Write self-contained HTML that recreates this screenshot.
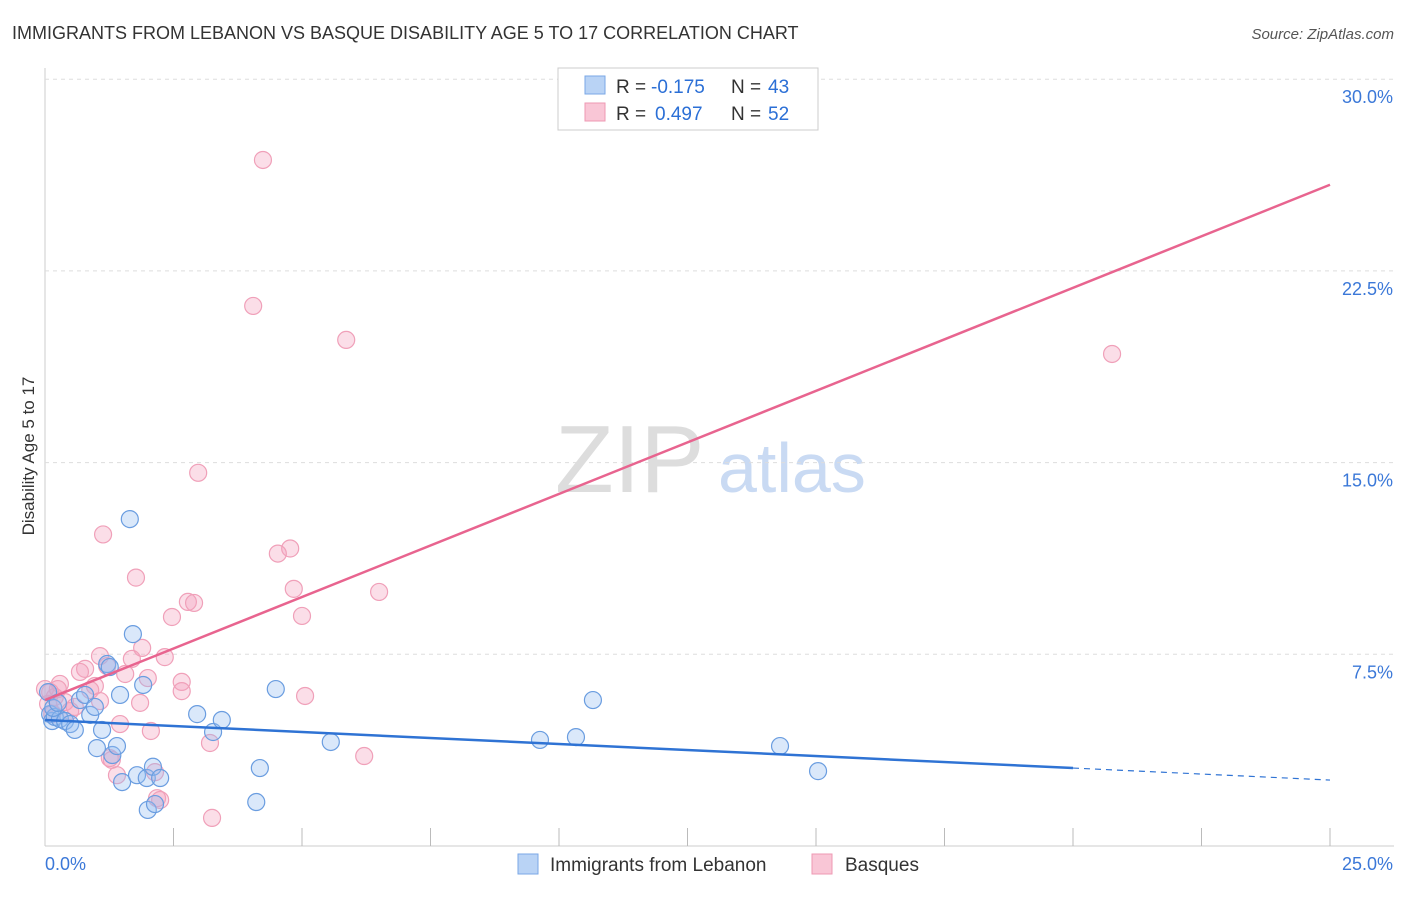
<!DOCTYPE html>
<html><head><meta charset="utf-8"><style>
body{margin:0;background:#fff;font-family:"Liberation Sans",sans-serif}
svg text{font-family:"Liberation Sans",sans-serif}
</style></head><body>
<svg id="c" width="1406" height="892" viewBox="0 0 1406 892">
<text x="12" y="39" font-size="18" fill="#333">IMMIGRANTS FROM LEBANON VS BASQUE DISABILITY AGE 5 TO 17 CORRELATION CHART</text>
<text x="1394" y="39" font-size="15" fill="#555" text-anchor="end" font-style="italic">Source: ZipAtlas.com</text>
<text x="34" y="456" font-size="17" fill="#333" text-anchor="middle" transform="rotate(-90 34 456)">Disability Age 5 to 17</text>
<text x="555" y="492" font-size="96" fill="#ddd" font-family="Liberation Serif">ZIP</text>
<text x="718" y="492" font-size="70" fill="#c9daf3">atlas</text>
<g id="grid"></g><g id="pts"></g><g id="lines"></g>
<g>
<rect x="558" y="68" width="260" height="62" fill="#fff" stroke="#ccc"/>
<rect x="585" y="76" width="20" height="18" fill="#b9d3f5" stroke="#7aa7e6"/>
<rect x="585" y="103" width="20" height="18" fill="#f9c6d6" stroke="#ee98b3"/>
<text x="616" y="93" font-size="19" fill="#333">R =</text>
<text x="651" y="93" font-size="19" fill="#2b6fd6">-0.175</text>
<text x="731" y="93" font-size="19" fill="#333">N =</text>
<text x="768" y="93" font-size="19" fill="#2b6fd6">43</text>
<text x="616" y="120" font-size="19" fill="#333">R =</text>
<text x="655" y="120" font-size="19" fill="#2b6fd6">0.497</text>
<text x="731" y="120" font-size="19" fill="#333">N =</text>
<text x="768" y="120" font-size="19" fill="#2b6fd6">52</text>
</g>
<g>
<rect x="518" y="854" width="20" height="20" fill="#b9d3f5" stroke="#7aa7e6"/>
<text x="550" y="871" font-size="19" fill="#333">Immigrants from Lebanon</text>
<rect x="812" y="854" width="20" height="20" fill="#f9c6d6" stroke="#ee98b3"/>
<text x="845" y="871" font-size="19" fill="#333">Basques</text>
</g>
</svg>
<script>
const yTicks=[7.5,15,22.5,30];
const xTicks=[0,2.5,5,7.5,10,12.5,15,17.5,20,22.5,25];
const blueX=[0.06,0.1,0.14,0.19,0.29,0.39,0.49,0.58,0.68,0.78,0.88,0.97,1.01,1.11,1.21,1.26,1.31,1.4,1.46,1.5,1.65,1.71,1.79,1.91,1.98,2.0,2.1,2.14,2.24,2.96,3.27,3.44,4.18,4.11,4.49,5.56,9.63,10.33,10.66,14.3,15.04,0.16,0.25];
const blueY=[6.02,5.16,4.89,5.05,4.97,4.89,4.77,4.54,5.71,5.91,5.13,5.44,3.83,4.54,7.12,7.0,3.56,3.91,5.91,2.5,12.79,8.29,2.77,6.3,2.66,1.41,3.1,1.64,2.66,5.16,4.46,4.93,3.05,1.72,6.14,4.07,4.15,4.26,5.71,3.91,2.93,5.4,5.6];
const pinkX=[4.24,4.05,5.86,20.76,2.98,1.13,4.77,4.53,1.77,4.84,6.5,2.78,2.9,5.0,2.47,1.89,1.07,2.33,1.69,0.78,1.21,0.68,1.56,0.97,0.29,2.66,2.0,2.66,0.88,5.06,1.85,0.1,0.19,0.39,0.58,1.46,2.06,3.21,6.21,1.3,1.4,2.14,2.18,2.24,3.25,0.06,0.14,0.49,1.07,0.0,0.25,1.26];
const pinkY=[26.84,21.13,19.8,19.25,14.6,12.19,11.64,11.44,10.5,10.06,9.94,9.55,9.51,9.0,8.96,7.75,7.43,7.39,7.32,6.93,7.04,6.81,6.73,6.26,6.34,6.42,6.57,6.06,6.1,5.87,5.6,6.02,5.83,5.63,5.44,4.77,4.5,4.03,3.52,3.37,2.77,2.89,1.87,1.8,1.1,5.56,5.16,5.28,5.67,6.14,6.14,3.44];
const blueLine=[0,4.93,20,3.05,25,2.58];
const pinkLine=[0,5.71,25,25.87];
const X=v=>45+v*51.4, Y=v=>846-v*25.56;
const NS='http://www.w3.org/2000/svg';
const mk=(p,t,a)=>{const e=document.createElementNS(NS,t);for(const k in a)e.setAttribute(k,a[k]);p.appendChild(e);return e;};
const g=document.getElementById('grid');
mk(g,'line',{x1:45,y1:68,x2:45,y2:846,stroke:'#ccc'});
mk(g,'line',{x1:45,y1:846,x2:1394,y2:846,stroke:'#ccc'});
yTicks.forEach(t=>{const l=mk(g,'line',{x1:45,y1:Y(t),x2:1394,y2:Y(t),stroke:'#ddd','stroke-dasharray':'4,4'});


const tx=mk(g,'text',{x:1393,y:Y(t)+24,'font-size':18,fill:'#3b78d8','text-anchor':'end'});tx.textContent=t.toFixed(1)+'%';

});
xTicks.forEach(t=>{if(t>0){const l=mk(g,'line',{x1:X(t),y1:828,x2:X(t),y2:846,stroke:'#bbb'});

}});
[[0,'start',45],[25,'end',1393]].forEach(([v,a,x])=>{const tx=mk(g,'text',{x:x,y:870,'font-size':18,fill:'#3b78d8','text-anchor':a});tx.textContent=v.toFixed(1)+'%';

});
const p=document.getElementById('pts');
pinkX.forEach((v,i)=>{const c=mk(p,'circle',{cx:X(v),cy:Y(pinkY[i]),r:8.5,fill:'rgba(244,160,188,0.35)',stroke:'#f0a0b9','stroke-width':1.2});

});
blueX.forEach((v,i)=>{const c=mk(p,'circle',{cx:X(v),cy:Y(blueY[i]),r:8.5,fill:'rgba(150,190,240,0.35)',stroke:'#6a9de0','stroke-width':1.2});

});
const L=document.getElementById('lines');
let e=mk(L,'line',{x1:X(blueLine[0]),y1:Y(blueLine[1]),x2:X(blueLine[2]),y2:Y(blueLine[3]),stroke:'#2f73d4','stroke-width':2.5});


e=mk(L,'line',{x1:X(blueLine[2]),y1:Y(blueLine[3]),x2:X(blueLine[4]),y2:Y(blueLine[5]),stroke:'#2f73d4','stroke-width':1.2,'stroke-dasharray':'6,5'});


e=mk(L,'line',{x1:X(pinkLine[0]),y1:Y(pinkLine[1]),x2:X(pinkLine[2]),y2:Y(pinkLine[3]),stroke:'#e8648f','stroke-width':2.5});


</script>
</body></html>
